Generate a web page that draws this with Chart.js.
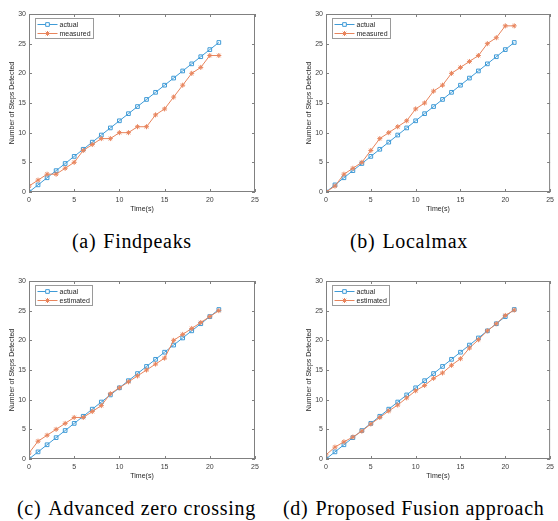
<!DOCTYPE html>
<html>
<head>
<meta charset="utf-8">
<script src="https://cdn.jsdelivr.net/npm/chart.js@4/dist/chart.umd.min.js"></script>
<style>
  html, body { margin: 0; padding: 0; background: #fff; overflow: hidden; }
  body { width: 558px; height: 521px; position: relative; }
  canvas { position: absolute; }
  .cap { position: absolute; white-space: nowrap; font-family: "Liberation Serif", "Times New Roman", serif; font-size: 20px; line-height: 22px; letter-spacing: 0.7px; color: #000; }
  .cap span { margin-right: 7px; }
</style>
</head>
<body>
<canvas id="chartA" width="279" height="218" style="left:0px;top:0px"></canvas>
<canvas id="chartB" width="261" height="218" style="left:297px;top:0px"></canvas>
<canvas id="chartC" width="279" height="218" style="left:0px;top:267px"></canvas>
<canvas id="chartD" width="261" height="218" style="left:297px;top:267px"></canvas>
<div class="cap" style="left:72px;top:230px"><span>(a)</span>Findpeaks</div>
<div class="cap" style="left:350px;top:230px"><span>(b)</span>Localmax</div>
<div class="cap" style="left:17px;top:497px"><span>(c)</span>Advanced zero crossing</div>
<div class="cap" style="left:283px;top:497px"><span>(d)</span>Proposed Fusion approach</div>
<script>
const time = [0,1,2,3,4,5,6,7,8,9,10,11,12,13,14,15,16,17,18,19,20,21];
const actualSteps = [0,1.2,2.4,3.6,4.8,6,7.2,8.4,9.6,10.8,12,13.2,14.4,15.6,16.8,18,19.2,20.4,21.6,22.8,24,25.2];
const findpeaksSteps = [1,2,3,3,4,5,7,8,9,9,10,10,11,11,13,14,16,18,20,21,23,23];
const localmaxSteps = [0,1,3,4,5,7,9,10,11,12,14,15,17,18,20,21,22,23,25,26,28,28];
const zeroCrossSteps = [1,3,4,5,6,7,7,8,9,11,12,13,14,15,16,17,20,21,22,23,24,25];
const fusionSteps = [0.7,2,2.9,3.7,4.7,5.9,7,8.1,9.1,10.3,11.5,12.4,13.6,14.5,15.8,16.9,18.7,20.1,21.6,22.8,24.2,25.1];
const xTicks = [0,5,10,15,20,25];
const yTicks = [0,5,10,15,20,25,30];

const blue = '#3f9bd7';
const orange = '#e8845c';
const axisColor = '#808080';
const textColor = '#404040';
const font = 'Liberation Sans, Arial, sans-serif';

// MATLAB style box with inward ticks and a boxed legend in the top-left corner
const matlabBox = {
  id: 'matlabBox',
  afterDraw(chart) {
    const ctx = chart.ctx;
    const a = chart.chartArea;
    const xs = chart.scales.x, ys = chart.scales.y;
    ctx.save();
    ctx.strokeStyle = axisColor;
    ctx.lineWidth = 1;
    ctx.strokeRect(a.left + 0.5, a.top + 0.5, a.right - a.left - 1, a.bottom - a.top - 1);
    ctx.beginPath();
    xTicks.forEach(v => {
      const px = Math.round(xs.getPixelForValue(v)) + 0.5;
      ctx.moveTo(px, a.bottom); ctx.lineTo(px, a.bottom - 3);
      ctx.moveTo(px, a.top); ctx.lineTo(px, a.top + 3);
    });
    yTicks.forEach(v => {
      const py = Math.round(ys.getPixelForValue(v)) + 0.5;
      ctx.moveTo(a.left, py); ctx.lineTo(a.left + 3, py);
      ctx.moveTo(a.right, py); ctx.lineTo(a.right - 3, py);
    });
    ctx.stroke();

    // legend
    ctx.font = '7px ' + font;
    const sets = chart.data.datasets;
    const tw = Math.max(...sets.map(d => ctx.measureText(d.label).width));
    const bx = a.left + 6.5, by = a.top + 4.5;
    const bw = Math.round(24 + tw + 3), bh = 20;
    ctx.fillStyle = '#fff';
    ctx.fillRect(bx, by, bw, bh);
    ctx.strokeStyle = '#9a9a9a';
    ctx.strokeRect(bx, by, bw, bh);
    sets.forEach((d, i) => {
      const y = by + 6 + i * 9;
      ctx.strokeStyle = d.borderColor;
      ctx.lineWidth = 1;
      ctx.beginPath();
      ctx.moveTo(bx + 2, y); ctx.lineTo(bx + 22, y);
      ctx.stroke();
      Chart.helpers.drawPoint(ctx, {
        pointStyle: d.pointStyle, radius: d.pointRadius, borderWidth: 1, rotation: 0
      }, bx + 12, y);
      ctx.fillStyle = '#262626';
      ctx.textBaseline = 'middle';
      ctx.textAlign = 'left';
      ctx.fillText(d.label, bx + 24, y + 0.5);
    });
    ctx.restore();
  }
};

function makeChart(id, series, label, rightPad) {
  const ctx = document.getElementById(id).getContext('2d');
  return new Chart(ctx, {
    type: 'line',
    data: {
      datasets: [{
        label: 'actual',
        data: time.map((t, i) => ({ x: t, y: actualSteps[i] })),
        borderColor: blue,
        backgroundColor: 'rgba(0,0,0,0)',
        borderWidth: 1,
        pointStyle: 'rect',
        pointRadius: 2.6,
        pointBorderWidth: 1,
        order: 1
      }, {
        label: label,
        data: time.map((t, i) => ({ x: t, y: series[i] })),
        borderColor: orange,
        backgroundColor: orange,
        borderWidth: 1,
        pointStyle: 'star',
        pointRadius: 2.5,
        pointBorderWidth: 1,
        order: 0
      }]
    },
    options: {
      responsive: false,
      animation: false,
      devicePixelRatio: 1,
      layout: { padding: { top: 14, right: rightPad, left: 0, bottom: 0 } },
      plugins: { legend: { display: false }, tooltip: { enabled: false } },
      scales: {
        x: {
          type: 'linear', min: 0, max: 25,
          afterBuildTicks: s => { s.ticks = xTicks.map(v => ({ value: v })); },
          afterFit: s => { s.height = 26; },
          grid: { display: false, drawTicks: false },
          border: { display: false },
          ticks: { padding: 4, color: textColor, font: { family: font, size: 7 }, maxRotation: 0 },
          title: { display: true, text: 'Time(s)', color: '#262626', font: { family: font, size: 7 }, padding: { top: 0, bottom: 5 } }
        },
        y: {
          type: 'linear', min: 0, max: 30,
          afterBuildTicks: s => { s.ticks = yTicks.map(v => ({ value: v })); },
          afterFit: s => { s.width = 29; },
          grid: { display: false, drawTicks: false },
          border: { display: false },
          ticks: { padding: 3, color: textColor, font: { family: font, size: 7 } },
          title: { display: true, text: 'Number of Steps Detected', color: '#262626', font: { family: font, size: 7 }, padding: { top: 8, bottom: 0 } }
        }
      }
    },
    plugins: [matlabBox]
  });
}

makeChart('chartA', findpeaksSteps, 'measured', 24);
makeChart('chartB', localmaxSteps, 'measured', 6);
makeChart('chartC', zeroCrossSteps, 'estimated', 24);
makeChart('chartD', fusionSteps, 'estimated', 6);
</script>
</body>
</html>
